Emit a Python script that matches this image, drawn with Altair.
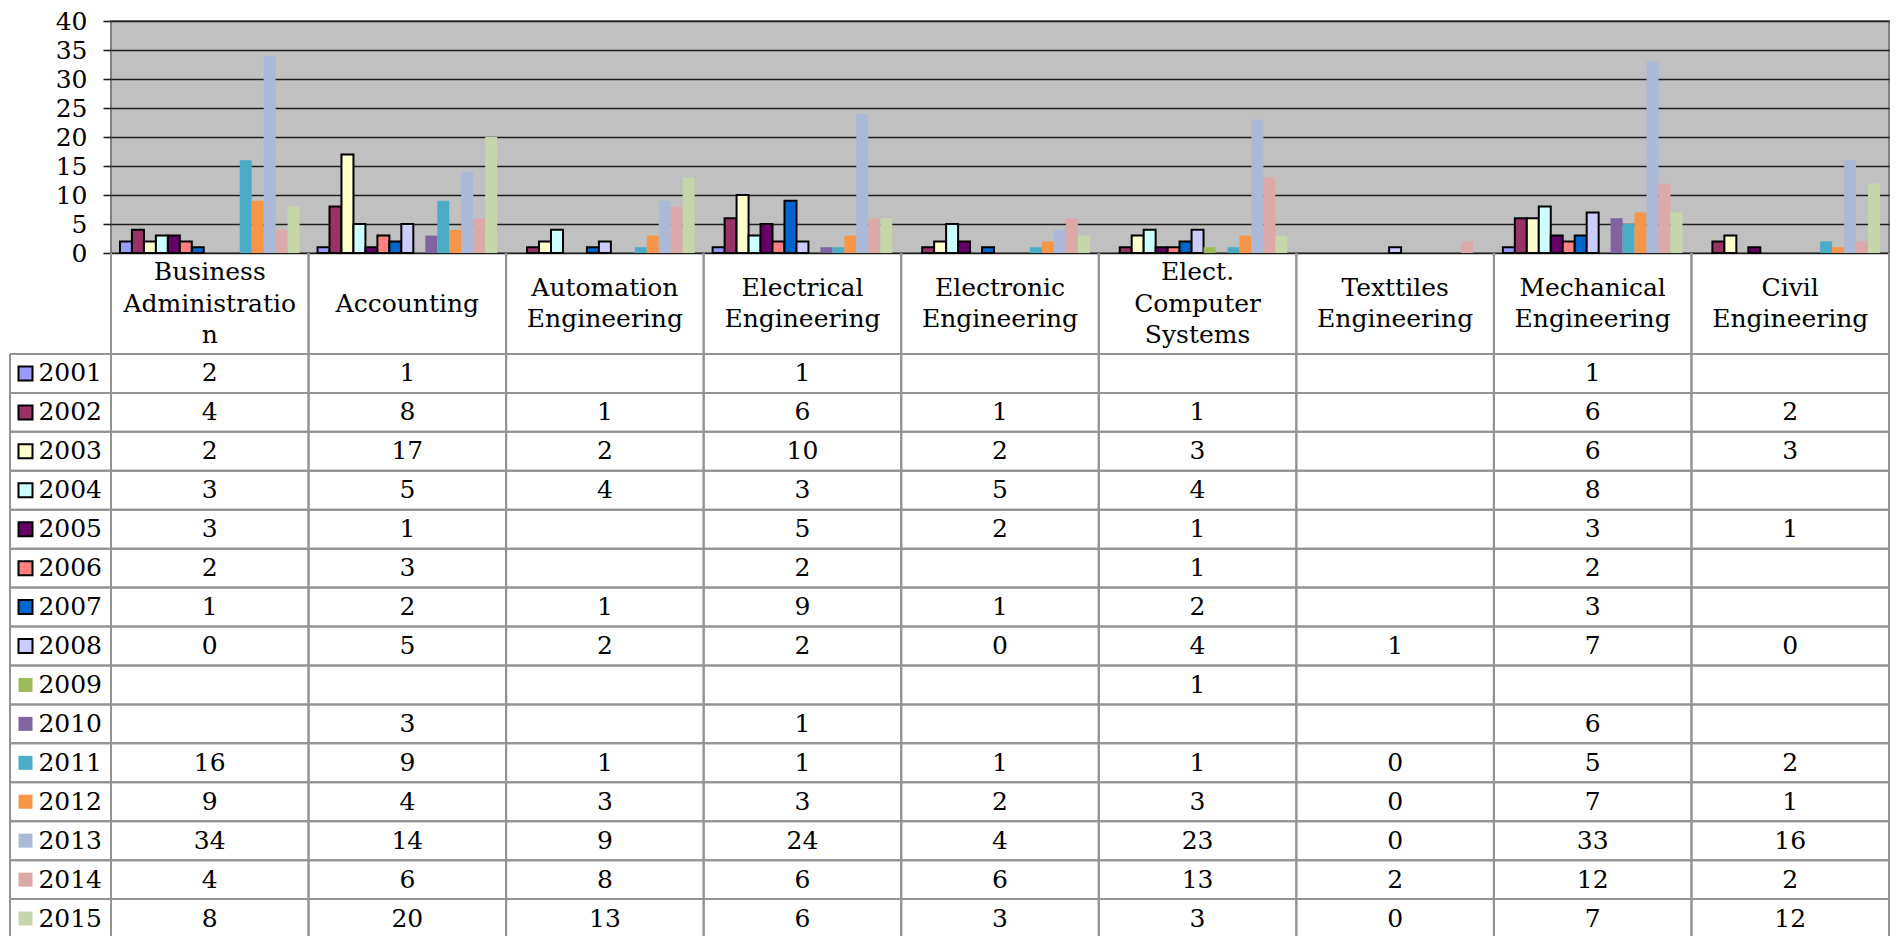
import altair as alt
import pandas as pd

FONT = "DejaVu Serif"

categories = ["Business Administration", "Accounting", "Automation Engineering",
              "Electrical Engineering", "Electronic Engineering", "Elect. Computer Systems",
              "Texttiles Engineering", "Mechanical Engineering", "Civil Engineering"]
header_labels = [["Business", "Administratio", "n"], ["Accounting"], ["Automation", "Engineering"],
                 ["Electrical", "Engineering"], ["Electronic", "Engineering"],
                 ["Elect.", "Computer", "Systems"], ["Texttiles", "Engineering"],
                 ["Mechanical", "Engineering"], ["Civil", "Engineering"]]
years = [2001, 2002, 2003, 2004, 2005, 2006, 2007, 2008, 2009, 2010, 2011, 2012, 2013, 2014, 2015]
colors = ["#9999FF", "#993366", "#FFFFCC", "#CCFFFF", "#660066", "#FF8080", "#0066CC", "#CCCCFF",
          "#9BBB59", "#8064A2", "#4BACC6", "#F79646", "#A9B9D7", "#DAA9A8", "#C6D6AB"]
outlined_years = [2001, 2002, 2003, 2004, 2005, 2006, 2007, 2008]

business = [2, 4, 2, 3, 3, 2, 1, 0, None, None, 16, 9, 34, 4, 8]
accounting = [1, 8, 17, 5, 1, 3, 2, 5, None, 3, 9, 4, 14, 6, 20]
automation = [None, 1, 2, 4, None, None, 1, 2, None, None, 1, 3, 9, 8, 13]
electrical = [1, 6, 10, 3, 5, 2, 9, 2, None, 1, 1, 3, 24, 6, 6]
electronic = [None, 1, 2, 5, 2, None, 1, 0, None, None, 1, 2, 4, 6, 3]
computer = [None, 1, 3, 4, 1, 1, 2, 4, 1, None, 1, 3, 23, 13, 3]
textiles = [None, None, None, None, None, None, None, 1, None, None, 0, 0, 0, 2, 0]
mechanical = [1, 6, 6, 8, 3, 2, 3, 7, None, 6, 5, 7, 33, 12, 7]
civil = [None, 2, 3, None, 1, None, None, 0, None, None, 2, 1, 16, 2, 12]

series_by_category = [business, accounting, automation, electrical, electronic,
                      computer, textiles, mechanical, civil]

rows = []
for cat, vals in zip(categories, series_by_category):
    for yr, v in zip(years, vals):
        if v is not None:
            rows.append({"category": cat, "year": yr, "value": v, "label": str(v)})
df = pd.DataFrame(rows)
df_bars = df[df["value"] > 0]
df_cats = pd.DataFrame({"category": categories})

head_rows = []
for cat, lines in zip(categories, header_labels):
    n = len(lines)
    for i, line in enumerate(lines):
        head_rows.append({"category": cat, "line": line, "pos": (n - 1) / 2 - i})
df_head = pd.DataFrame(head_rows)
df_years = pd.DataFrame({"year": years})

W = 1778
H_BARS = 232
H_HEAD = 101
H_BODY = 584
LEG_W = 101
LINE_H = 31.5
GRID = "#939393"

xscale = alt.Scale(domain=categories, paddingInner=0, paddingOuter=0)
fill_scale = alt.Scale(domain=years, range=colors)
stroke_cond = alt.condition("datum.year <= 2008", alt.value("black"), alt.value("transparent"))

bars = alt.Chart(df_bars).mark_bar(strokeWidth=2).encode(
    x=alt.X("category:N", sort=categories, scale=xscale, axis=None),
    xOffset=alt.XOffset("year:O", scale=alt.Scale(domain=years, paddingInner=0, paddingOuter=0.75)),
    y=alt.Y("value:Q", scale=alt.Scale(domain=[0, 40], nice=False),
            axis=alt.Axis(values=list(range(0, 41, 5)), title=None, grid=True,
                          gridColor="#1E1E1E", gridWidth=1.6, tickSize=8, tickColor="#1E1E1E",
                          tickWidth=1.6, domain=False, labelFont=FONT, labelFontSize=25,
                          labelPadding=16, labelColor="black")),
    fill=alt.Fill("year:O", scale=fill_scale, legend=None),
    stroke=stroke_cond,
).properties(width=W, height=H_BARS,
             view=alt.ViewBackground(fill="#C0C0C0", stroke="#808080", strokeWidth=2))

# header row of table
half = H_HEAD / 2 / LINE_H
head_text = alt.Chart(df_head).mark_text(font=FONT, fontSize=25, baseline="middle", color="black").encode(
    x=alt.X("category:N", sort=categories, scale=xscale, axis=None),
    y=alt.Y("pos:Q", scale=alt.Scale(domain=[-half, half]), axis=None),
    text="line:N",
)
head_v0 = alt.Chart(df_cats).mark_rule(color=GRID, strokeWidth=2).encode(
    x=alt.X("category:N", sort=categories, scale=xscale, axis=None, bandPosition=0),
    y=alt.value(0), y2=alt.value(H_HEAD),
)
head_v1 = alt.Chart(df_cats).mark_rule(color=GRID, strokeWidth=2).encode(
    x=alt.X("category:N", sort=categories, scale=xscale, axis=None, bandPosition=1),
    y=alt.value(0), y2=alt.value(H_HEAD),
)
header = alt.layer(head_v0, head_v1, head_text).properties(width=W, height=H_HEAD)

# body of table
yscale = alt.Scale(domain=years, paddingInner=0, paddingOuter=0)
h0 = alt.Chart(df_years).mark_rule(color=GRID, strokeWidth=2).encode(
    y=alt.Y("year:O", scale=yscale, axis=None, bandPosition=0),
    x=alt.value(-LEG_W), x2=alt.value(W),
)
h1 = alt.Chart(df_years).mark_rule(color=GRID, strokeWidth=2).encode(
    y=alt.Y("year:O", scale=yscale, axis=None, bandPosition=1),
    x=alt.value(-LEG_W), x2=alt.value(W),
)
v0 = alt.Chart(df_cats).mark_rule(color=GRID, strokeWidth=2).encode(
    x=alt.X("category:N", sort=categories, scale=xscale, axis=None, bandPosition=0),
    y=alt.value(0), y2=alt.value(H_BODY),
)
v1 = alt.Chart(df_cats).mark_rule(color=GRID, strokeWidth=2).encode(
    x=alt.X("category:N", sort=categories, scale=xscale, axis=None, bandPosition=1),
    y=alt.value(0), y2=alt.value(H_BODY),
)
vleft = alt.Chart(df_cats.head(1)).mark_rule(color=GRID, strokeWidth=2).encode(
    x=alt.value(-LEG_W), y=alt.value(0), y2=alt.value(H_BODY),
)
swatch = alt.Chart(df_years).mark_point(shape="square", filled=True, size=196, strokeWidth=2,
                                        opacity=1).encode(
    y=alt.Y("year:O", scale=yscale, axis=None),
    x=alt.value(-85.5),
    fill=alt.Fill("year:O", scale=fill_scale, legend=None),
    stroke=stroke_cond,
)
year_text = alt.Chart(df_years).mark_text(font=FONT, fontSize=25, align="right", baseline="middle",
                                          color="black").encode(
    y=alt.Y("year:O", scale=yscale, axis=None),
    x=alt.value(-9),
    text="year:N",
)
cell_text = alt.Chart(df).mark_text(font=FONT, fontSize=25, baseline="middle", color="black").encode(
    x=alt.X("category:N", sort=categories, scale=xscale, axis=None),
    y=alt.Y("year:O", scale=yscale, axis=None),
    text="label:N",
)
body = alt.layer(h0, h1, v0, v1, vleft, swatch, year_text, cell_text).properties(width=W, height=H_BODY)

chart = alt.vconcat(bars, header, body, spacing=0, bounds="flush").properties(
    padding={"left": 1, "top": 0, "right": 0, "bottom": 0}
).configure_view(strokeWidth=0)

chart.save("out.html", embed_options={"renderer": "svg", "actions": False})
